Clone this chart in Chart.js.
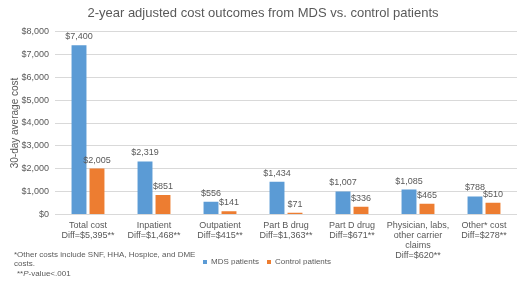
<!DOCTYPE html>
<html>
<head>
<meta charset="utf-8">
<script src="https://cdn.jsdelivr.net/npm/chart.js@4"></script>
<style>
  body { margin: 0; background: #fff; }
  #wrap { position: relative; width: 520px; height: 281px; }
  .note { position: absolute; font-family: "Liberation Sans", Arial, sans-serif; font-size: 8px; color: #595959; line-height: 9px; }
</style>
</head>
<body>
<div id="wrap">
  <canvas id="myChart" width="520" height="281"></canvas>
  <div class="note" style="left:14px; top:250px; width:186px;">*Other costs include SNF, HHA, Hospice, and DME costs.</div>
  <div class="note" style="left:17px; top:269px;">**<i>P</i>-value&lt;.001</div>
</div>
<script>
let categories = [
    ["Total cost", "Diff=$5,395**"],
    ["Inpatient", "Diff=$1,468**"],
    ["Outpatient", "Diff=$415**"],
    ["Part B drug", "Diff=$1,363**"],
    ["Part D drug", "Diff=$671**"],
    ["Physician, labs,", "other carrier", "claims", "Diff=$620**"],
    ["Other* cost", "Diff=$278**"]
];
let mdsValues = [7400, 2319, 556, 1434, 1007, 1085, 788];
let controlValues = [2005, 851, 141, 71, 336, 465, 510];
let yTicks = [0, 1000, 2000, 3000, 4000, 5000, 6000, 7000, 8000];

const fontName = "'Liberation Sans', Arial, sans-serif";
const grey = '#595959';

function money(v) {
    return '$' + v.toLocaleString('en-US');
}

// values on top of each bar
let barLabels = {
    id: 'barLabels',
    afterDatasetsDraw(chart) {
        let ctx = chart.ctx;
        ctx.save();
        ctx.font = '9px ' + fontName;
        ctx.fillStyle = grey;
        ctx.textAlign = 'center';
        ctx.textBaseline = 'bottom';
        chart.data.datasets.forEach((ds, d) => {
            chart.getDatasetMeta(d).data.forEach((bar, j) => {
                ctx.fillText(money(ds.data[j]), bar.x, bar.y - 4);
            });
        });
        ctx.restore();
    }
};

// the legend sits partly beside the tall x labels, like in the original
let squeezeLegend = {
    id: 'squeezeLegend',
    beforeInit(chart) {
        let fit = chart.legend.fit;
        chart.legend.fit = function () {
            fit.bind(chart.legend)();
            this.height -= 11;
        };
    },
    afterLayout(chart) {
        chart.legend.top -= 16;
        chart.legend.bottom -= 16;
        chart.legend.left += 4;
        chart.legend.right += 4;
    }
};

let data = {
    labels: categories,
    datasets: [
        {
            label: 'MDS patients',
            data: mdsValues,
            backgroundColor: '#5B9BD5',
            categoryPercentage: 0.545,
            barPercentage: 0.83
        },
        {
            label: 'Control patients',
            data: controlValues,
            backgroundColor: '#ED7D31',
            categoryPercentage: 0.545,
            barPercentage: 0.83
        }
    ]
};

let config = {
    type: 'bar',
    data: data,
    plugins: [barLabels, squeezeLegend],
    options: {
        responsive: false,
        animation: false,
        layout: { padding: { left: 9, right: 3, top: 2, bottom: 0 } },
        plugins: {
            title: {
                display: true,
                text: '2-year adjusted cost outcomes from MDS vs. control patients',
                color: grey,
                font: { family: fontName, size: 13, weight: 'normal' },
                padding: { top: 4, bottom: 10 }
            },
            legend: {
                position: 'bottom',
                labels: {
                    color: grey,
                    font: { family: fontName, size: 8 },
                    boxWidth: 4,
                    boxHeight: 4,
                    padding: 8
                }
            },
            tooltip: { enabled: false }
        },
        scales: {
            x: {
                grid: { display: false, drawTicks: false },
                border: { display: false },
                ticks: {
                    color: grey,
                    font: { family: fontName, size: 9, lineHeight: 1.1 },
                    maxRotation: 0,
                    autoSkip: false,
                    padding: 6
                }
            },
            y: {
                min: 0,
                max: 8000,
                afterBuildTicks(axis) {
                    axis.ticks = yTicks.map(v => ({ value: v }));
                },
                afterFit(axis) {
                    axis.width = 46;
                },
                grid: { color: '#d9d9d9', drawTicks: false },
                border: { display: false },
                ticks: {
                    color: grey,
                    font: { family: fontName, size: 9 },
                    padding: 6,
                    callback: v => money(v)
                },
                title: {
                    display: true,
                    text: '30-day average cost',
                    color: grey,
                    font: { family: fontName, size: 10 },
                    padding: { top: 0, bottom: 0 }
                }
            }
        }
    }
};

let myChart = new Chart(document.getElementById('myChart'), config);
</script>
</body>
</html>
